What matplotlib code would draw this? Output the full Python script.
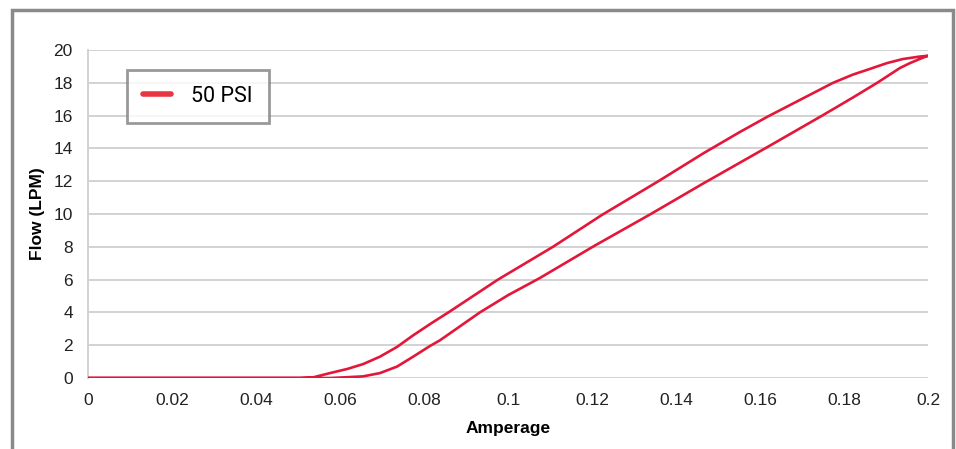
import matplotlib
matplotlib.use("Agg")
import matplotlib.pyplot as plt
from matplotlib.patches import Rectangle
from matplotlib.lines import Line2D

# rising branch (lower curve)
amp_up = [0, 0.0576, 0.0617, 0.0655, 0.0695, 0.0736, 0.0774, 0.0814, 0.0838,
          0.0933, 0.1, 0.1076, 0.1205, 0.134, 0.1464, 0.1612, 0.1748, 0.1821,
          0.1879, 0.1933, 0.1957, 0.198, 0.2]
flow_up = [0, 0, 0.05, 0.1, 0.3, 0.7, 1.3, 1.95, 2.3,
           4.0, 5.05, 6.1, 8.05, 10.0, 11.85, 14.0, 16.0, 17.1,
           18.0, 18.9, 19.2, 19.45, 19.65]

# falling branch (upper curve), listed by increasing amperage
amp_down = [0, 0.0505, 0.0536, 0.0576, 0.0617, 0.0655, 0.0695, 0.0736, 0.0774,
            0.0821, 0.0858, 0.0976, 0.1107, 0.1224, 0.1358, 0.1465, 0.1552,
            0.1619, 0.1774, 0.1821, 0.1862, 0.1902, 0.194, 0.198, 0.2]
flow_down = [0, 0, 0.04, 0.3, 0.55, 0.85, 1.3, 1.9, 2.6,
             3.4, 4.0, 6.0, 8.0, 9.95, 12.0, 13.7, 15.0,
             15.95, 18.0, 18.5, 18.85, 19.2, 19.45, 19.6, 19.65]

series_name = "50 PSI"
x_ticks = [0, 0.02, 0.04, 0.06, 0.08, 0.1, 0.12, 0.14, 0.16, 0.18, 0.2]
x_labels = ["0", "0.02", "0.04", "0.06", "0.08", "0.1", "0.12", "0.14", "0.16", "0.18", "0.2"]
y_ticks = list(range(0, 21, 2))

red = "#e3173a"

plt.rcParams['font.family'] = ['Liberation Sans', 'DejaVu Sans']

fig = plt.figure(figsize=(9.56, 4.49), dpi=100)
ax = fig.add_axes([0.0921, 0.1581, 0.9707 - 0.0921, 0.8886 - 0.1581])

# one continuous hysteresis loop: up the lower branch, back down the upper one
xs = amp_up + amp_down[::-1]
ys = flow_up + flow_down[::-1]
ax.plot(xs, ys, color=red, lw=1.9, solid_joinstyle='round', zorder=3)

ax.set_xlim(0, 0.2)
ax.set_ylim(0, 20)
ax.set_xticks(x_ticks)
ax.set_xticklabels(x_labels)
ax.set_yticks(y_ticks)
ax.tick_params(length=0, labelsize=12.5, colors='#222222')
ax.tick_params(axis='x', pad=11)
ax.tick_params(axis='y', pad=11)
ax.grid(axis='y', color='#d2d2d2', lw=1.4)
ax.set_axisbelow(True)
for s in ['top', 'right', 'bottom']:
    ax.spines[s].set_visible(False)
ax.spines['left'].set_color('#d2d2d2')
ax.spines['left'].set_linewidth(1.4)

ax.set_xlabel("Amperage", fontsize=12.5, fontweight='bold', labelpad=9)
ax.set_ylabel("Flow (LPM)", fontsize=12.5, fontweight='bold', labelpad=6)

handle = Line2D([], [], color='#e8353f', lw=4, solid_capstyle='round')
leg = ax.legend([handle], [series_name], loc='upper left',
                bbox_to_anchor=(0.046, 0.94), frameon=True, fancybox=False,
                handlelength=1.3, handletextpad=0.95,
                borderpad=0.75, borderaxespad=0, prop={'family': 'Roboto', 'size': 15.5})
leg.get_frame().set_edgecolor('#808080')
leg.get_frame().set_linewidth(2)

# outer frame around the whole chart
fig.patches.append(Rectangle((12 / 956, -0.05), (953 - 12) / 956, 1 - 10 / 449 + 0.05,
                             transform=fig.transFigure, fill=False,
                             edgecolor='#8a8a8a', lw=2.5))

fig.savefig("out.png", dpi=100)
